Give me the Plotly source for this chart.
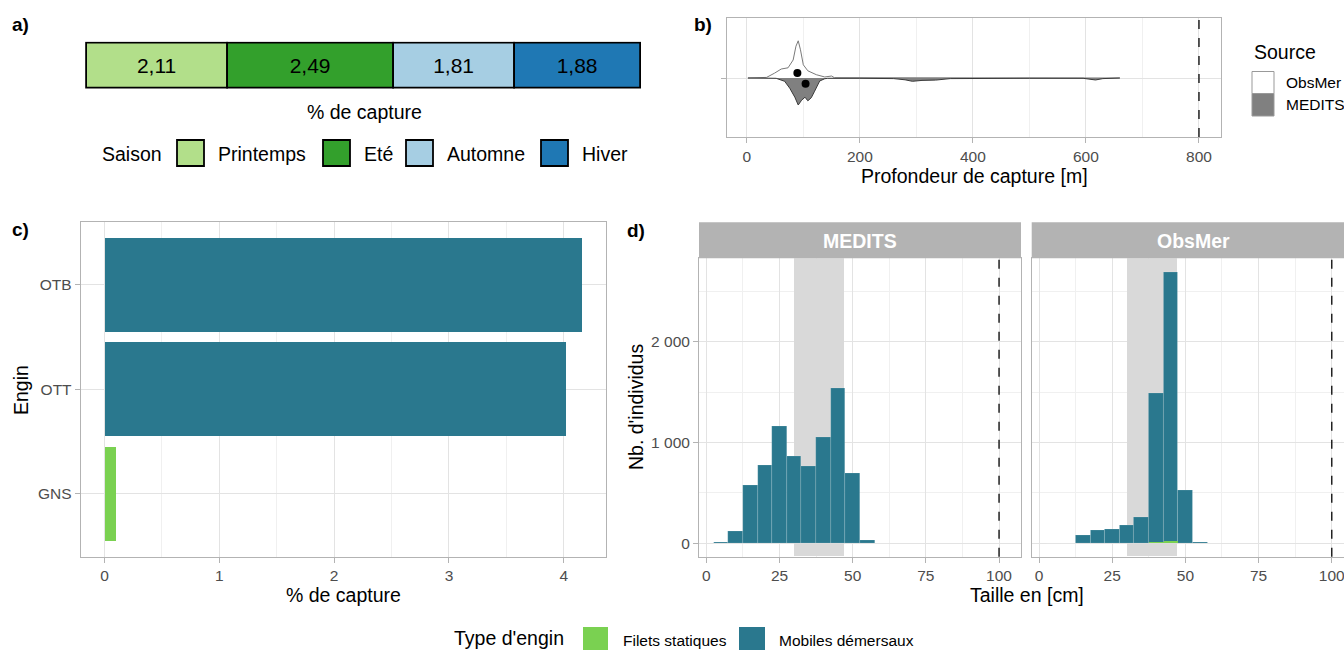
import plotly.graph_objects as go
import numpy as np

W, H = 1344, 650
def X(px): return px / W
def Y(py): return 1 - py / H

FONT = "Liberation Sans, Arial, sans-serif"
TICK_C = "#4d4d4d"
BORDER_C = "#b3b3b3"
GRID_MAJ = "#e3e3e3"
GRID_MIN = "#f0f0f0"

# ---------------- data ----------------
# a) % de capture par saison
saisons = ["Printemps", "Eté", "Automne", "Hiver"]
saison_pct = [2.11, 2.49, 1.81, 1.88]
saison_colors = ["#B2DF8A", "#33A02C", "#A6CEE3", "#1F78B4"]

# b) densité de profondeur de capture (valeurs relatives lues sur la figure)
prof_obsmer = [2, 30, 35, 49, 61, 73, 82, 87, 91, 95, 100, 108, 123, 138, 150, 155, 200, 300, 400, 500, 600, 660]
dens_obsmer = [0.0, 0.0, 0.01, 0.08, 0.15, 0.17, 0.30, 0.53, 0.62, 0.47, 0.22, 0.12, 0.055, 0.017, 0.033, 0.005,
               0.004, 0.004, 0.003, 0.003, 0.003, 0.0]
prof_medits = [2, 40, 52, 67, 76, 85, 91, 97, 103, 108, 114, 120, 129, 138, 143, 200, 260, 280, 293, 310, 334,
               360, 400, 500, 595, 610, 617, 630, 660]
dens_medits = [0.0, 0.003, 0.005, 0.055, 0.17, 0.32, 0.45, 0.37, 0.32, 0.38, 0.33, 0.22, 0.05, 0.012, 0.005,
               0.005, 0.01, 0.03, 0.055, 0.04, 0.035, 0.01, 0.005, 0.005, 0.005, 0.025, 0.033, 0.01, 0.0]
sources = ["ObsMer", "MEDITS"]
moy_prof = [89.5, 104]
moy_y = [0.083, -0.095]
prof_max = 800

# c) % de capture par engin
engins = ["OTB", "OTT", "GNS"]
engin_pct = [4.16, 4.02, 0.10]
engin_type = ["Mobiles démersaux", "Mobiles démersaux", "Filets statiques"]
types = ["Filets statiques", "Mobiles démersaux"]
type_colors = {"Filets statiques": "#7AD151", "Mobiles démersaux": "#2A788E"}

# d) histogrammes de taille (classes de 5 cm)
taille_centres = [5, 10, 15, 20, 25, 30, 35, 40, 45, 50, 55, 60]
medits_mobiles = [5, 117, 577, 777, 1163, 860, 767, 1050, 1540, 693, 30, 0]
obsmer_mobiles = [0, 3, 77, 127, 140, 177, 260, 1490, 2695, 520, 13, 2]
obsmer_filets = [0, 0, 0, 0, 0, 0, 0, 8, 10, 0, 0, 0]
taille_zone = [30, 47]
taille_max = 100

fig = go.Figure()

d_yrange = [-134.75, 2829.75]

# ---------------- a) ----------------
starts = np.concatenate([[0], np.cumsum(saison_pct)[:-1]])
for s, v, b, c in zip(saisons, saison_pct, starts, saison_colors):
    fig.add_trace(go.Bar(
        x=[v], y=[0], base=[b], orientation="h", width=1,
        marker=dict(color=c, line=dict(color="black", width=1.8)),
        text=[f"{v:.2f}".replace(".", ",")], textposition="inside", insidetextanchor="middle",
        insidetextfont=dict(color="black", size=21, family=FONT), textangle=0,
        xaxis="x", yaxis="y", showlegend=False, name=s))
total = float(np.sum(saison_pct))
kx = (641 - 87) / total
pad_x = 2 / kx
pad_y = 2 / 45

# ---------------- b) ----------------
fig.add_trace(go.Scatter(x=prof_obsmer, y=dens_obsmer, mode="lines", fill="tozeroy",
                         fillcolor="white", line=dict(color="#7a7a7a", width=1),
                         xaxis="x2", yaxis="y2", showlegend=False))
fig.add_trace(go.Scatter(x=prof_medits, y=[-v for v in dens_medits], mode="lines", fill="tozeroy",
                         fillcolor="#808080", line=dict(color="#3a3a3a", width=1),
                         xaxis="x2", yaxis="y2", showlegend=False))
fig.add_trace(go.Scatter(x=moy_prof, y=moy_y, mode="markers",
                         marker=dict(color="black", size=8),
                         xaxis="x2", yaxis="y2", showlegend=False))

# ---------------- c) ----------------
for t in types:
    idx = [i for i, e in enumerate(engin_type) if e == t]
    fig.add_trace(go.Bar(x=[engin_pct[i] for i in idx], y=[engins[i] for i in idx], orientation="h",
                         width=0.9, marker=dict(color=type_colors[t], line=dict(width=0)),
                         xaxis="x3", yaxis="y3", showlegend=False, name=t))

# ---------------- d) ----------------
# zone grisée (drawn as a bar spanning the full y range, beneath the histogram bars)
zone_mid = (taille_zone[0] + taille_zone[1]) / 2
zone_w = taille_zone[1] - taille_zone[0]
for xa, ya in [("x4", "y4"), ("x5", "y5")]:
    fig.add_trace(go.Bar(x=[zone_mid], y=[d_yrange[1] - d_yrange[0]], base=[d_yrange[0]], width=[zone_w],
                         marker=dict(color="#d9d9d9", line=dict(width=0)),
                         xaxis=xa, yaxis=ya, showlegend=False, hoverinfo="skip"))

bar_line = dict(color="rgba(255,255,255,0.25)", width=0.5)
fig.add_trace(go.Bar(x=taille_centres, y=medits_mobiles, width=5,
                     marker=dict(color=type_colors["Mobiles démersaux"], line=bar_line),
                     xaxis="x4", yaxis="y4", showlegend=False))
fig.add_trace(go.Bar(x=taille_centres, y=obsmer_mobiles, width=5,
                     marker=dict(color=type_colors["Mobiles démersaux"], line=bar_line),
                     xaxis="x5", yaxis="y5", showlegend=False))
fig.add_trace(go.Bar(x=taille_centres, y=obsmer_filets, width=5,
                     marker=dict(color=type_colors["Filets statiques"], line=dict(width=0)),
                     xaxis="x5", yaxis="y5", showlegend=False))

# ---------------- axes ----------------
def ax(**kw):
    base = dict(showline=True, mirror=True, linecolor=BORDER_C, linewidth=1,
                ticks="outside", ticklen=5, tickcolor=BORDER_C, tickwidth=1,
                tickfont=dict(size=15.5, color=TICK_C, family=FONT),
                showgrid=True, gridcolor=GRID_MAJ, gridwidth=1, zeroline=False)
    base.update(kw)
    return base

px_per_cm = (1021 - 699) / 110
layout_axes = dict(
    xaxis=dict(domain=[X(85), X(643)], range=[-pad_x, total + pad_x], visible=False, anchor="y"),
    yaxis=dict(domain=[Y(90.5), Y(41.5)], range=[-0.5 - pad_y, 0.5 + pad_y], visible=False, anchor="x"),
    xaxis2=ax(domain=[X(727), X(1221)], range=[-35, 839], anchor="y2",
              tickvals=[0, 200, 400, 600, 800],
              minor=dict(tickvals=[100, 300, 500, 700], showgrid=True, gridcolor=GRID_MIN, gridwidth=1)),
    yaxis2=ax(domain=[Y(137), Y(18)], range=[-59 / 60, 1.0], anchor="x2",
              tickvals=[0], showticklabels=False),
    xaxis3=ax(domain=[X(80.7), X(606)], range=[-0.208, 4.368], anchor="y3",
              tickvals=[0, 1, 2, 3, 4],
              minor=dict(tickvals=[0.5, 1.5, 2.5, 3.5], showgrid=True, gridcolor=GRID_MIN, gridwidth=1)),
    yaxis3=ax(domain=[Y(556.7), Y(222)], type="category", categoryorder="array",
              categoryarray=engins[::-1], range=[-0.6, 2.6], anchor="x3"),
    xaxis4=ax(domain=[X(699), X(1021)], range=[-2.5, 107.5], anchor="y4",
              tickvals=[0, 25, 50, 75, 100],
              minor=dict(tickvals=[12.5, 37.5, 62.5, 87.5], showgrid=True, gridcolor=GRID_MIN, gridwidth=1)),
    yaxis4=ax(domain=[Y(556.7), Y(258.3)], range=d_yrange, anchor="x4",
              tickvals=[0, 1000, 2000], tickformat=",d",
              minor=dict(tickvals=[500, 1500, 2500], showgrid=True, gridcolor=GRID_MIN, gridwidth=1)),
    xaxis5=ax(domain=[X(1031.7), 1.0], range=[-2.5, -2.5 + (W - 1031.7) / px_per_cm], anchor="y5",
              tickvals=[0, 25, 50, 75, 100], ticklabeloverflow="allow",
              minor=dict(tickvals=[12.5, 37.5, 62.5, 87.5], showgrid=True, gridcolor=GRID_MIN, gridwidth=1)),
    yaxis5=ax(domain=[Y(556.7), Y(258.3)], range=d_yrange, anchor="x5",
              tickvals=[0, 1000, 2000], showticklabels=False, ticks="",
              minor=dict(tickvals=[500, 1500, 2500], showgrid=True, gridcolor=GRID_MIN, gridwidth=1)),
)

shapes = []
annotations = []

def txt(x, y, s, size=19.5, color="black", bold=False, xanchor="center", yanchor="middle", angle=0):
    annotations.append(dict(x=X(x), y=Y(y), xref="paper", yref="paper", text=f"<b>{s}</b>" if bold else s,
                            showarrow=False, xanchor=xanchor, yanchor=yanchor, textangle=angle,
                            font=dict(size=size, color=color, family=FONT)))

def box(x0, y0, x1, y1, fill, line_color="black", lw=1.5):
    shapes.append(dict(type="rect", xref="paper", yref="paper", x0=X(x0), x1=X(x1), y0=Y(y1), y1=Y(y0),
                       fillcolor=fill, line=dict(color=line_color, width=lw), layer="above"))

# panel labels
txt(20, 25, "a)", size=19, bold=True)
txt(703, 25, "b)", size=19, bold=True)
txt(20, 229, "c)", size=19, bold=True)
txt(636, 230, "d)", size=19, bold=True)

# a) title & legend
txt(364, 112, "% de capture")
txt(100, 154, "Saison", xanchor="left")
key_x = [177, 323, 406, 541]
for s, c, kx0 in zip(saisons, saison_colors, key_x):
    box(kx0, 140, kx0 + 27, 166, c, "black", 1.8)
    txt(kx0 + 39, 154, s, xanchor="left")

# b) dashed line, title, legend
shapes.append(dict(type="line", xref="x2", yref="y2 domain", x0=prof_max, x1=prof_max, y0=0, y1=1,
                   line=dict(color="#222", width=1.5, dash="dash"), layer="above"))
txt(974, 176, "Profondeur de capture [m]")
txt(1252, 52, "Source", xanchor="left")
box(1252, 71.5, 1274, 93.5, "white", "#999999", 1)
box(1252, 93.5, 1274, 116, "#808080", "#999999", 1)
txt(1284, 82.5, sources[0], size=15.5, xanchor="left")
txt(1284, 105, sources[1], size=15.5, xanchor="left")

# c) titles
txt(343, 595, "% de capture")
txt(21, 390, "Engin", angle=-90)

# d) dashed lines, strips, titles
for xa, ya in [("x4", "y4"), ("x5", "y5")]:
    shapes.append(dict(type="line", xref=xa, yref=f"{ya} domain", x0=taille_max, x1=taille_max, y0=0, y1=1,
                       line=dict(color="#222", width=1.5, dash="dash"), layer="above"))
shapes.append(dict(type="rect", xref="paper", yref="paper", x0=X(699), x1=X(1021), y0=Y(258.3), y1=Y(222.3),
                   fillcolor="#b3b3b3", line=dict(width=0)))
shapes.append(dict(type="rect", xref="paper", yref="paper", x0=X(1031.7), x1=1.0, y0=Y(258.3), y1=Y(222.3),
                   fillcolor="#b3b3b3", line=dict(width=0)))
txt(860, 241, "MEDITS", color="white", bold=True)
txt(1193, 241, "ObsMer", color="white", bold=True)
txt(1027, 595, "Taille en [cm]")
txt(636, 407, "Nb. d'individus", angle=-90)

# bottom legend
txt(452, 638, "Type d'engin", xanchor="left")
box(583, 627, 608, 662, type_colors[types[0]], type_colors[types[0]], 0)
txt(621, 640, types[0], size=15.5, xanchor="left")
box(739, 627, 765, 662, type_colors[types[1]], type_colors[types[1]], 0)
txt(777, 640, types[1], size=15.5, xanchor="left")

fig.update_layout(
    width=W, height=H, margin=dict(l=0, r=0, t=0, b=0),
    paper_bgcolor="white", plot_bgcolor="white",
    barmode="overlay", bargap=0, separators=", ",
    font=dict(family=FONT, color="black"),
    shapes=shapes, annotations=annotations, showlegend=False,
    **layout_axes,
)

fig.write_html("out.html", config={"displayModeBar": False},
               post_script="document.body.style.margin='0px';document.body.style.overflow='hidden';")
